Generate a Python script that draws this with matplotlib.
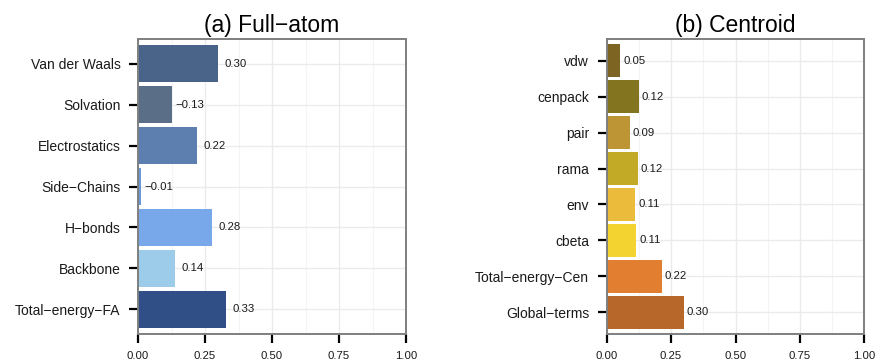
import matplotlib
matplotlib.use("Agg")
import numpy as np
import matplotlib.pyplot as plt
from matplotlib.ticker import MultipleLocator

plt.rcParams['font.family'] = ['Liberation Sans', 'DejaVu Sans']

# (a) Full-atom terms, top to bottom
fa_terms = ['Van der Waals', 'Solvation', 'Electrostatics', 'Side\u2212Chains',
            'H\u2212bonds', 'Backbone', 'Total\u2212energy\u2212FA']
fa_values = [0.30, -0.13, 0.22, -0.01, 0.28, 0.14, 0.33]
fa_lengths = [0.298, 0.127, 0.220, 0.011, 0.276, 0.138, 0.328]
fa_colors = ['#4a6389', '#5b6e87', '#5d7fb0', '#6a9ad6',
             '#78a8e9', '#9dcbea', '#304f86']

# (b) Centroid terms, top to bottom
cen_terms = ['vdw', 'cenpack', 'pair', 'rama', 'env', 'cbeta',
             'Total\u2212energy\u2212Cen', 'Global\u2212terms']
cen_values = [0.05, 0.12, 0.09, 0.12, 0.11, 0.11, 0.22, 0.30]
cen_lengths = [0.052, 0.125, 0.090, 0.121, 0.110, 0.114, 0.214, 0.300]
cen_colors = ['#7e6423', '#837420', '#bd9534', '#c2aa27',
              '#ebbb3c', '#f2d330', '#e17e30', '#b7672a']

xticks = [0.0, 0.25, 0.5, 0.75, 1.0]


def fmt(v):
    s = f'{abs(v):.2f}'
    return ('\u2212' + s) if v < 0 else s


def draw_panel(ax, terms, values, lengths, colors, title, offset):
    y = np.arange(len(terms))
    ax.barh(y, lengths, height=0.9, color=colors, zorder=2)
    for yi, v, l in zip(y, values, lengths):
        ax.text(l + offset, yi, fmt(v), ha='center', va='center',
                fontsize=8.2, color='#1a1a1a', zorder=3)
    ax.set_yticks(y)
    ax.set_yticklabels(terms, fontsize=10, color='#1a1a1a')
    ax.set_ylim(len(terms) - 1 + 0.6, -0.6)
    ax.set_xlim(0, 1)
    ax.set_xticks(xticks)
    ax.set_xticklabels([f'{t:.2f}' for t in xticks], fontsize=8.2,
                       color='#1a1a1a')
    ax.xaxis.set_minor_locator(MultipleLocator(0.125))
    ax.grid(True, which='major', color='#ebebeb', linewidth=1.0, zorder=0)
    ax.grid(True, which='minor', axis='x', color='#f4f4f4', linewidth=0.8,
            zorder=0)
    ax.set_axisbelow(True)
    ax.tick_params(which='major', length=6.5, width=1.6, color='black',
                   pad=6)
    ax.tick_params(which='minor', length=0)
    for sp in ax.spines.values():
        sp.set_color('#7f7f7f')
        sp.set_linewidth(1.4)
    ax.set_title(title, fontsize=16.5, pad=5)


fig = plt.figure(figsize=(8.77, 3.64), dpi=100)
ax1 = fig.add_axes([138 / 877, 30 / 364, 268 / 877, 295 / 364])
ax2 = fig.add_axes([606.5 / 877, 30 / 364, 258 / 877, 295 / 364])

draw_panel(ax1, fa_terms, fa_values, fa_lengths, fa_colors,
           '(a) Full\u2212atom', 0.067)
draw_panel(ax2, cen_terms, cen_values, cen_lengths, cen_colors,
           '(b) Centroid', 0.055)

fig.savefig('out.png', dpi=100)
